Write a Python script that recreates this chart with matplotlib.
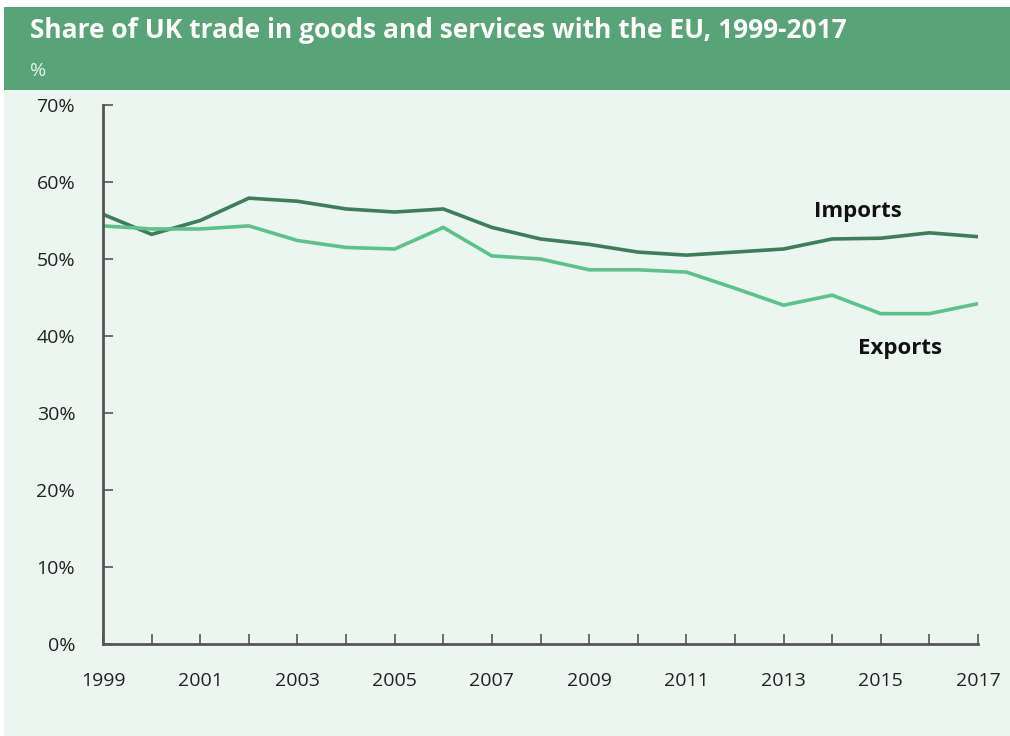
import matplotlib.pyplot as plt
from matplotlib.patches import Rectangle
from matplotlib.ticker import FuncFormatter

years = list(range(1999, 2018))
imports = [55.8, 53.2, 55.0, 57.9, 57.5, 56.5, 56.1, 56.5, 54.1, 52.6, 51.9,
           50.9, 50.5, 50.9, 51.3, 52.6, 52.7, 53.4, 52.9]
exports = [54.3, 53.9, 53.9, 54.3, 52.4, 51.5, 51.3, 54.1, 50.4, 50.0, 48.6,
           48.6, 48.3, 46.2, 44.0, 45.3, 42.9, 42.9, 44.2]

header_green = '#58a377'
bg_mint = '#ecf6f0'
imports_colour = '#3f7c5a'
exports_colour = '#5cc28c'
axis_grey = '#555555'

plt.rcParams['font.family'] = ['Open Sans', 'DejaVu Sans']

fig = plt.figure(figsize=(10.1, 7.36), dpi=100)
fig.patch.set_facecolor('white')

# mint panel behind the chart and green header band
fig.add_artist(Rectangle((0.004, 0), 0.996, 0.878, transform=fig.transFigure,
                         facecolor=bg_mint, edgecolor='none', zorder=0))
fig.add_artist(Rectangle((0.004, 0.878), 0.996, 0.112, transform=fig.transFigure,
                         facecolor=header_green, edgecolor='none', zorder=0))
fig.text(0.03, 0.958, 'Share of UK trade in goods and services with the EU, 1999-2017',
         color='white', fontsize=19, fontweight='bold', va='center')
fig.text(0.03, 0.904, '%', color='#e8f3ec', fontsize=14, va='center')

ax = fig.add_axes([103 / 1010, 1 - 644 / 736, 875 / 1010, (644 - 105) / 736])
ax.set_facecolor('none')

ax.plot(years, imports, color=imports_colour, linewidth=2.6, solid_joinstyle='miter')
ax.plot(years, exports, color=exports_colour, linewidth=2.6, solid_joinstyle='miter')

ax.text(2014.53, 55.5, 'Imports', fontsize=16, fontweight='bold', color='#111111',
        ha='center', va='baseline')
ax.text(2015.4, 37.6, 'Exports', fontsize=16, fontweight='bold', color='#111111',
        ha='center', va='baseline')

ax.set_xlim(1999, 2017)
ax.set_ylim(0, 70)
ax.set_xticks(years)
ax.set_xticklabels([str(y) if (y - 1999) % 2 == 0 else '' for y in years])
ax.set_yticks(range(0, 71, 10))
ax.yaxis.set_major_formatter(FuncFormatter(lambda v, p: f'{int(v)}%'))

for side in ['top', 'right']:
    ax.spines[side].set_visible(False)
for side in ['left', 'bottom']:
    ax.spines[side].set_color(axis_grey)
    ax.spines[side].set_linewidth(2)

ax.tick_params(axis='both', direction='in', length=7, width=1.2, color=axis_grey,
               labelsize=14, labelcolor='#222222')
ax.tick_params(axis='x', pad=20)
ax.tick_params(axis='y', pad=20)

fig.savefig('out.png', dpi=100, facecolor=fig.get_facecolor())
